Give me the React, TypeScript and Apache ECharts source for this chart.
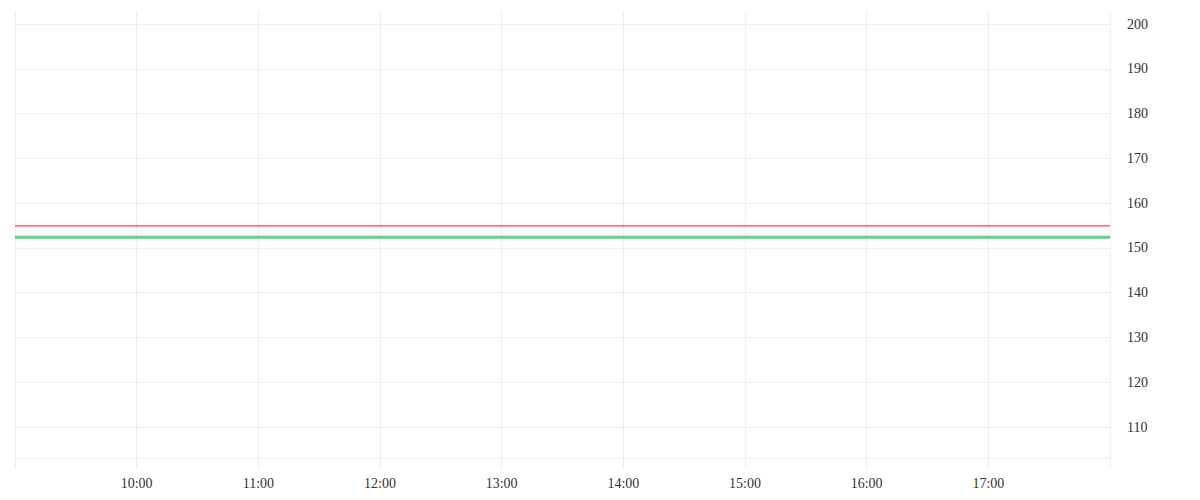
import { useEffect, useRef } from 'react';
import * as echarts from 'echarts';

// x is hours of the day, y is price
const xMin = 9;
const xMax = 18;
const yMin = 103.08;
const yMax = 202.68;
const yTicks = [110, 120, 130, 140, 150, 160, 170, 180, 190, 200];
const redLevel = [
  [9, 154.9],
  [18, 154.9],
];
const greenLevel = [
  [9, 152.4],
  [18, 152.4],
];

const gridColor = '#eeeeee';
const labelFont = 'serif';

export default function App() {
  const chartRef = useRef<HTMLDivElement>(null);

  useEffect(() => {
    if (!chartRef.current) return;
    document.body.style.margin = '0';
    const chart = echarts.init(chartRef.current, undefined, { renderer: 'svg' });

    const option: echarts.EChartsOption = {
      animation: false,
      backgroundColor: '#ffffff',
      grid: { left: 15, right: 90, top: 12, bottom: 42 },
      xAxis: {
        type: 'value',
        min: xMin,
        max: xMax,
        interval: 1,
        axisLine: { show: true, lineStyle: { color: gridColor, width: 1 } },
        axisTick: { show: true, length: 10, lineStyle: { color: gridColor } },
        splitLine: { show: true, lineStyle: { color: gridColor, width: 1 } },
        axisLabel: {
          margin: 18,
          color: '#333333',
          fontFamily: labelFont,
          fontSize: 14,
          formatter: (v: number) =>
            v === xMin || v === xMax ? '' : `${String(v).padStart(2, '0')}:00`,
        },
      },
      yAxis: {
        type: 'value',
        position: 'right',
        min: yMin,
        max: yMax,
        axisLine: { show: false },
        axisTick: { show: false, customValues: yTicks },
        splitLine: { show: true, lineStyle: { color: gridColor, width: 1 } },
        axisLabel: {
          margin: 17,
          color: '#333333',
          fontFamily: labelFont,
          fontSize: 14,
          customValues: yTicks,
        },
      },
      series: [
        {
          type: 'line',
          data: redLevel,
          symbol: 'none',
          lineStyle: { color: '#ff4455', width: 1.2 },
          silent: true,
        },
        {
          type: 'line',
          data: greenLevel,
          symbol: 'none',
          lineStyle: { color: '#5fd58a', width: 3 },
          silent: true,
        },
      ],
    };

    chart.setOption(option);
    return () => chart.dispose();
  }, []);

  return <div ref={chartRef} style={{ width: 1200, height: 500 }} />;
}
